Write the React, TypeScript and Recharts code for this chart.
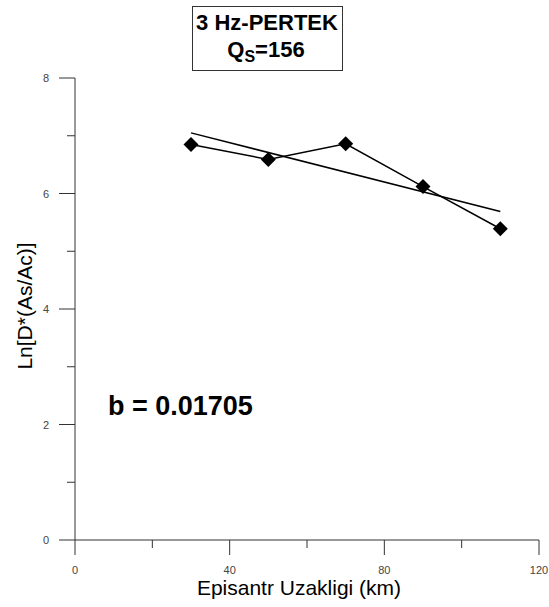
import { Line, LineChart, XAxis, YAxis } from "recharts";

const distances = [30, 50, 70, 90, 110];
const lnValues = [6.85, 6.59, 6.86, 6.12, 5.39];
const fitDistances = [30, 110];
const fitValues = [7.05, 5.69];
const xTicks = [0, 20, 40, 60, 80, 100, 120];
const yTicks = [0, 1, 2, 3, 4, 5, 6, 7, 8];

const points = distances.map((d, i) => ({ x: d, y: lnValues[i] }));
const fit = fitDistances.map((d, i) => ({ x: d, y: fitValues[i] }));

const FONT = "'Liberation Sans', Arial, sans-serif";
const AXIS = "#333";

function XTick({ x, y, payload }: any) {
  const major = payload.value % 40 === 0;
  return (
    <g>
      <line x1={x} y1={y} x2={x} y2={y + (major ? 15 : 8)} stroke={AXIS} />
      {major && (
        <text x={x} y={y + 34} textAnchor="middle" fontSize={11} fill="#444" fontFamily={FONT}>
          {payload.value}
        </text>
      )}
    </g>
  );
}

function YTick({ x, y, payload }: any) {
  const major = payload.value % 2 === 0;
  return (
    <g>
      <line x1={x - (major ? 16 : 8)} y1={y} x2={x} y2={y} stroke={AXIS} />
      {major && (
        <text x={x - 26} y={y + 4} textAnchor="end" fontSize={11} fill="#444" fontFamily={FONT}>
          {payload.value}
        </text>
      )}
    </g>
  );
}

function Diamond({ cx, cy }: any) {
  const r = 7.5;
  return <polygon points={`${cx},${cy - r} ${cx + r},${cy} ${cx},${cy + r} ${cx - r},${cy}`} fill="#000" />;
}

export default function App() {
  return (
    <div style={{ position: "relative", width: 549, height: 607, background: "#fff", fontFamily: FONT }}>
      <style>{`body{margin:0}`}</style>
      <LineChart width={549} height={607} margin={{ top: 78, right: 10, bottom: 0, left: 0 }}>
        <XAxis
          type="number"
          dataKey="x"
          domain={[0, 120]}
          ticks={xTicks}
          height={67}
          tickSize={0}
          tickMargin={0}
          tick={<XTick />}
          stroke={AXIS}
          interval={0}
        />
        <YAxis
          type="number"
          dataKey="y"
          domain={[0, 8]}
          ticks={yTicks}
          width={75}
          tickSize={0}
          tickMargin={0}
          tick={<YTick />}
          stroke={AXIS}
          interval={0}
        />
        <Line
          data={fit}
          dataKey="y"
          stroke="#000"
          strokeWidth={1.5}
          dot={false}
          isAnimationActive={false}
        />
        <Line
          data={points}
          dataKey="y"
          stroke="#000"
          strokeWidth={1.5}
          dot={<Diamond />}
          activeDot={false}
          isAnimationActive={false}
        />
      </LineChart>
      <svg
        width={549}
        height={607}
        style={{ position: "absolute", left: 0, top: 0, pointerEvents: "none" }}
        fontFamily={FONT}
      >
        <rect x={192.5} y={6.5} width={150} height={64} fill="#fff" stroke={AXIS} />
        <text x={267} y={30} textAnchor="middle" fontSize={22} fontWeight="bold" fill="#000">
          3 Hz-PERTEK
        </text>
        <text x={266} y={57} textAnchor="middle" fontSize={22} fontWeight="bold" fill="#000">
          Q<tspan fontSize={16} dy={4.5}>S</tspan>
          <tspan dy={-4.5}>=156</tspan>
        </text>
        <text x={108} y={415} fontSize={27} fontWeight="bold" fill="#000">
          b = 0.01705
        </text>
        <text x={299} y={595} textAnchor="middle" fontSize={21} fill="#000">
          Episantr Uzakligi (km)
        </text>
        <text
          x={0}
          y={0}
          transform="translate(32,306) rotate(-90)"
          textAnchor="middle"
          fontSize={21}
          fill="#000"
        >
          Ln[D*(As/Ac)]
        </text>
      </svg>
    </div>
  );
}
